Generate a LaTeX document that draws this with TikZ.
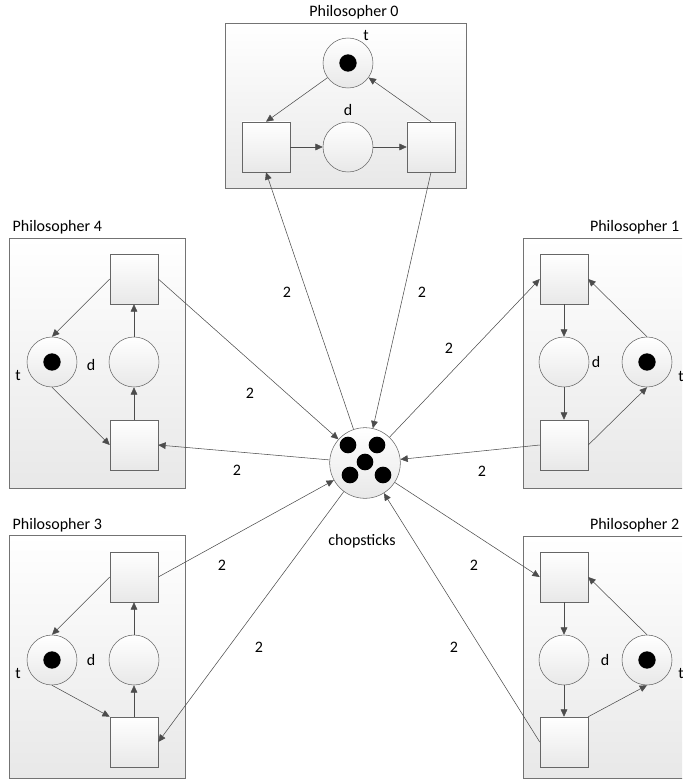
\documentclass[tikz,border=0pt]{standalone}
\usepackage{fontspec}
\setmainfont{Carlito}
\usetikzlibrary{arrows.meta}
\begin{document}
\begin{tikzpicture}[x=0.75pt,y=-0.75pt,font=\fontsize{12}{14}\selectfont,
  phil/.style={draw=black!55,top color=white,bottom color=black!9},
  trans/.style={draw=black!60,top color=white,bottom color=black!9,minimum width=36pt,minimum height=37.5pt,inner sep=0pt},
  place/.style={circle,draw=black!60,top color=white,bottom color=black!9,minimum size=37.5pt,inner sep=0pt},
  token/.style={circle,fill=black,minimum size=13pt,inner sep=0pt},
  arc/.style={draw=black!70,-{Triangle[length=5.5pt,width=5pt]}}]
\useasboundingbox (0,0) rectangle (682,784);
\clip (0,0) rectangle (682,784);

% Philosopher 0
\draw[phil] (225,23) rectangle (466,188);
\node (h0) at (354,12) {Philosopher 0};
\node[trans] (p0a) at (266,147) {};
\node[place] (p0d) at (348,147) {};
\node[trans] (p0b) at (431,147) {};
\node[place] (p0t) at (348,63) {};
\node[token] (k0) at (p0t) {};
\node (l0t) at (366,36) {t};
\node (l0d) at (348,110) {d};
\draw[arc] (p0a) -- (p0d);
\draw[arc] (p0d) -- (p0b);
\draw[arc] (p0b.north) -- (p0t);
\draw[arc] (p0t) -- (p0a.north);

% Philosopher 1
\draw[phil] (523,238) rectangle (700,488);
\node[anchor=east] (h1) at (684,227) {Philosopher 1};
\node[trans] (p1a) at (564,279) {};
\node[place] (p1d) at (564,362) {};
\node[trans] (p1b) at (564,445) {};
\node[place] (p1t) at (647,362) {};
\node[token] (k1) at (p1t) {};
\node (l1t) at (681,376) {t};
\node (l1d) at (596,362) {d};
\draw[arc] (p1a) -- (p1d);
\draw[arc] (p1d) -- (p1b);
\draw[arc] (p1b.east) -- (p1t.south);
\draw[arc] (p1t.north) -- (p1a.east);

% Philosopher 2
\draw[phil] (523,536) rectangle (700,778);
\node[anchor=east] (h2) at (684,525) {Philosopher 2};
\node[trans] (p2a) at (564,577) {};
\node[place] (p2d) at (564,660) {};
\node[trans] (p2b) at (564,742) {};
\node[place] (p2t) at (647,660) {};
\node[token] (k2) at (p2t) {};
\node (l2t) at (681,673) {t};
\node (l2d) at (605,660) {d};
\draw[arc] (p2a) -- (p2d);
\draw[arc] (p2d) -- (p2b);
\draw[arc] (p2b.north east) -- (p2t.south);
\draw[arc] (p2t.north) -- (p2a.east);

% Philosopher 3
\draw[phil] (9,535) rectangle (185,778);
\node[anchor=west] (h3) at (8,525) {Philosopher 3};
\node[trans] (p3a) at (134,577) {};
\node[place] (p3d) at (134,660) {};
\node[trans] (p3b) at (134,742) {};
\node[place] (p3t) at (52,660) {};
\node[token] (k3) at (p3t) {};
\node (l3t) at (18,673) {t};
\node (l3d) at (91,660) {d};
\draw[arc] (p3b) -- (p3d);
\draw[arc] (p3d) -- (p3a);
\draw[arc] (p3a.west) -- (p3t.north);
\draw[arc] (p3t.south) -- (p3b.north west);

% Philosopher 4
\draw[phil] (9,238) rectangle (185,488);
\node[anchor=west] (h4) at (8,227) {Philosopher 4};
\node[trans] (p4a) at (134,279) {};
\node[place] (p4d) at (134,362) {};
\node[trans] (p4b) at (134,445) {};
\node[place] (p4t) at (52,362) {};
\node[token] (k4) at (p4t) {};
\node (l4t) at (18,375) {t};
\node (l4d) at (91,365) {d};
\draw[arc] (p4b) -- (p4d);
\draw[arc] (p4d) -- (p4a);
\draw[arc] (p4a.west) -- (p4t.north);
\draw[arc] (p4t.south) -- (p4b.west);

% chopsticks
\node[place,minimum size=53pt] (chop) at (365,463) {};
\node[token,minimum size=12.5pt] (c1) at (348,445) {};
\node[token,minimum size=12.5pt] (c2) at (377,445) {};
\node[token,minimum size=12.5pt] (c3) at (365,462) {};
\node[token,minimum size=12.5pt] (c4) at (350,475) {};
\node[token,minimum size=12.5pt] (c5) at (383,475) {};
\node (lc) at (362,541) {chopsticks};

\draw[arc] (chop) -- (p0a.south);
\draw[arc] (p0b.south) -- (chop);
\draw[arc] (chop) -- (p1a.west);
\draw[arc] (p1b.west) -- (chop);
\draw[arc] (chop) -- (p2a.west);
\draw[arc] (p2b.west) -- (chop);
\draw[arc] (p3a.east) -- (chop);
\draw[arc] (chop) -- (p3b.east);
\draw[arc] (p4a.east) -- (chop);
\draw[arc] (chop) -- (p4b.east);

% weights
\node (w0a) at (287,292) {2};
\node (w0b) at (422,292) {2};
\node (w1a) at (449,348) {2};
\node (w1b) at (482,471) {2};
\node (w2a) at (474,565) {2};
\node (w2b) at (454,647) {2};
\node (w3a) at (222,565) {2};
\node (w3b) at (259,647) {2};
\node (w4a) at (250,393) {2};
\node (w4b) at (237,470) {2};
\end{tikzpicture}
\end{document}
